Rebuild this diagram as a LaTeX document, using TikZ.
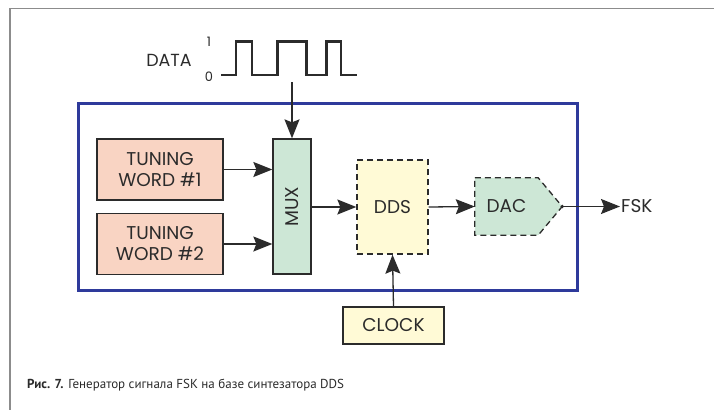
\documentclass[tikz,border=0pt]{standalone}
\usepackage{fontspec}
\setmainfont{Poppins}
\newfontfamily\capfont{PT Sans}
\usetikzlibrary{arrows.meta,backgrounds}

\definecolor{salmon}{HTML}{F9D4C3}
\definecolor{mintgreen}{HTML}{CDE7D6}
\definecolor{paleyellow}{HTML}{FFFAD6}
\definecolor{frameblue}{HTML}{2E3A9B}
\definecolor{inkgray}{HTML}{2B2B2B}

\begin{document}
\begin{tikzpicture}[x=1pt,y=-1pt,
	blockbox/.style={shape=rectangle,draw=inkgray,line width=1.3pt,inner sep=0pt,align=center,text=inkgray,font=\fontsize{18.5}{21}\selectfont},
	dashbox/.style={dash pattern=on 6pt off 4pt},
	sig/.style={-{Stealth[length=19pt,width=15pt,inset=3pt]},line width=1.3pt,draw=inkgray},
	lbl/.style={text=inkgray,inner sep=1pt,font=\fontsize{18.5}{21}\selectfont},
	]
	\useasboundingbox (0,0) rectangle (714,410);
	
	% outer frame of the figure
	\draw[color=black!45,line width=1.5pt] (714,8.5) -- (10,8.5) -- (10,410);
	
	% data input
	\node[lbl,font=\fontsize{17.5}{20}\selectfont] (data) at (169, 60) {DATA};
	\node[lbl,font=\fontsize{13}{15}\selectfont] (one) at (209, 42) {1};
	\node[lbl,font=\fontsize{13}{15}\selectfont] (zero) at (209, 77) {0};
	\draw[inkgray,line width=2.6pt] (221,75) -- (236,75) -- (236,41.5) -- (252,41.5) -- (252,75) -- (277.5,75) -- (277.5,41.5) -- (306.5,41.5) -- (306.5,75) -- (326.5,75) -- (326.5,41.5) -- (341,41.5) -- (341,75) -- (357,75);
	\coordinate (dataout) at (292, 82);
	
	% synthesizer frame
	\draw[frameblue,line width=3pt] (78,103) rectangle (577,290);
	
	\node[blockbox,fill=salmon,minimum width=126pt,minimum height=61pt] (tw1) at (160, 169.5) {TUNING\\WORD \#1};
	\node[blockbox,fill=salmon,minimum width=126pt,minimum height=61pt] (tw2) at (160, 244) {TUNING\\WORD \#2};
	\node[blockbox,fill=mintgreen,minimum width=38pt,minimum height=135pt] (mux) at (292, 206.5) {};
	\node[lbl,rotate=90] (muxtext) at (mux.center) {MUX};
	\node[blockbox,fill=paleyellow,dashbox,minimum width=71pt,minimum height=94pt] (dds) at (392.5, 207) {DDS};
	\node[lbl,minimum width=63pt,minimum height=57pt,inner sep=0pt] (dac) at (506.5, 206.5) {DAC};
	\begin{scope}[on background layer]
		\draw[fill=mintgreen,draw=inkgray,line width=1.3pt,dashbox] (dac.north west) -- (dac.north east) -- ([xshift=24pt]dac.east) -- (dac.south east) -- (dac.south west) -- cycle;
	\end{scope}
	\coordinate (dactip) at ([xshift=24pt]dac.east);
	\node[blockbox,fill=paleyellow,minimum width=101pt,minimum height=37pt] (clock) at (393.5, 325.5) {CLOCK};
	\node[lbl,anchor=west] (fsk) at (620, 206.5) {FSK};
	
	\draw[sig] (dataout) -- (dataout |- mux.north);
	\draw[sig] (tw1.east) -- (tw1.east -| mux.west);
	\draw[sig] (tw2.east) -- (tw2.east -| mux.west);
	\draw[sig] (mux.east |- dds.west) -- (dds.west);
	\draw[sig] (dds.east) -- (dac.west);
	\draw[sig] (clock.north) -- (dds.south);
	\fill[inkgray] (dactip) circle (1.8pt);
	\draw[sig] (dactip) -- (fsk.west);
	
	% caption
	\node[anchor=base west,inner sep=0pt,text=inkgray,font=\capfont\fontsize{13}{16}\selectfont] (caption) at (27, 388) {\textbf{Рис. 7.} Генератор сигнала FSK на базе синтезатора DDS};
\end{tikzpicture}
\end{document}
